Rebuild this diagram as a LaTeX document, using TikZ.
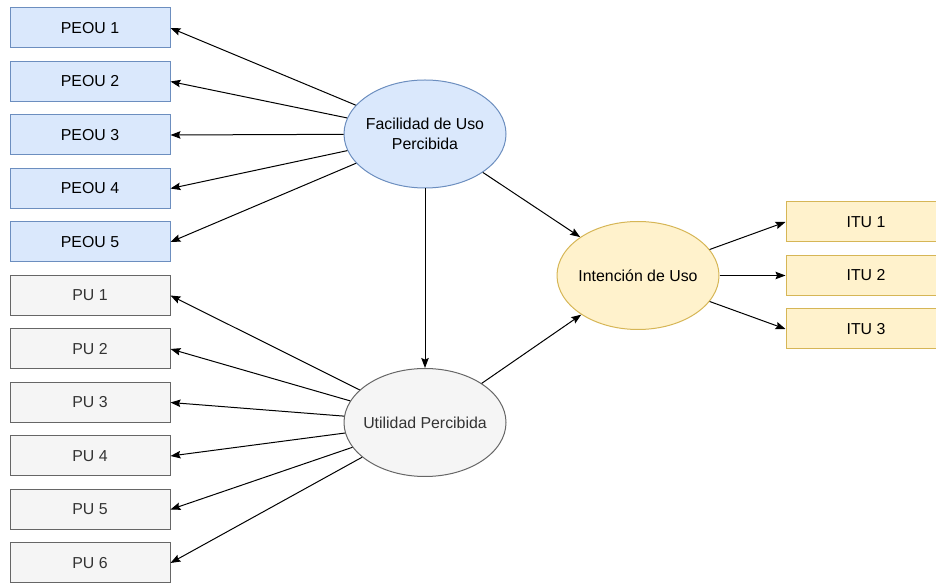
\documentclass[tikz,border=0pt]{standalone}
\usepackage{fontspec}
\setmainfont{Liberation Sans}
\usetikzlibrary{shapes.geometric,arrows.meta}

\definecolor{blueFill}{HTML}{DAE8FC}
\definecolor{blueLine}{HTML}{6C8EBF}
\definecolor{greyFill}{HTML}{F5F5F5}
\definecolor{greyLine}{HTML}{666666}
\definecolor{greyText}{HTML}{333333}
\definecolor{yellowFill}{HTML}{FFF2CC}
\definecolor{yellowLine}{HTML}{D6B656}

\tikzset{
  every node/.style={font=\fontsize{11.9pt}{15pt}\selectfont, line width=0.75pt},
  item/.style={rectangle, minimum width=120pt, minimum height=30pt, inner sep=0pt},
  construct/.style={ellipse, minimum width=121.5pt, minimum height=81pt, inner sep=0pt},
  caption/.style={align=center, inner sep=0pt},
  blueitem/.style={item, fill=blueFill, draw=blueLine},
  greyitem/.style={item, fill=greyFill, draw=greyLine, text=greyText},
  yellowitem/.style={item, fill=yellowFill, draw=yellowLine},
  link/.style={line width=0.75pt, -{Stealth[length=7.5pt,width=5.6pt,inset=1.2pt]}}
}

\begin{document}
\begin{tikzpicture}[x=0.75pt, y=-0.75pt]
  \useasboundingbox (0,0) rectangle (936,584);

  % latent constructs (text placed as centred labels so the ellipse keeps its size)
  \node[construct, fill=blueFill, draw=blueLine,
        label={[caption]center:Facilidad de Uso\\Percibida}] (fup) at (425,134) {};
  \node[construct, fill=greyFill, draw=greyLine,
        label={[caption, text=greyText]center:Utilidad Percibida}] (up) at (425,422.5) {};
  \node[construct, fill=yellowFill, draw=yellowLine,
        label={[caption]center:Intención de Uso}] (iu) at (638,275.5) {};

  % indicators of perceived ease of use
  \node[blueitem] (peou1) at (90,28)    {PEOU 1};
  \node[blueitem] (peou2) at (90,81.5)  {PEOU 2};
  \node[blueitem] (peou3) at (90,135)   {PEOU 3};
  \node[blueitem] (peou4) at (90,188.5) {PEOU 4};
  \node[blueitem] (peou5) at (90,242)   {PEOU 5};

  % indicators of perceived usefulness
  \node[greyitem] (pu1) at (90,295.5) {PU 1};
  \node[greyitem] (pu2) at (90,349)   {PU 2};
  \node[greyitem] (pu3) at (90,402.5) {PU 3};
  \node[greyitem] (pu4) at (90,456)   {PU 4};
  \node[greyitem] (pu5) at (90,509.5) {PU 5};
  \node[greyitem] (pu6) at (90,563)   {PU 6};

  % indicators of intention to use
  \node[yellowitem] (itu1) at (866,222)   {ITU 1};
  \node[yellowitem] (itu2) at (866,275.5) {ITU 2};
  \node[yellowitem] (itu3) at (866,329)   {ITU 3};

  % reflective links
  \foreach \i in {1,...,5} \draw[link] (fup) -- (peou\i.east);
  \foreach \i in {1,...,6} \draw[link] (up) -- (pu\i.east);
  \foreach \i in {1,2,3} \draw[link] (iu) -- (itu\i.west);

  % structural paths
  \draw[link] (fup) -- (up);
  \draw[link] (fup) -- (iu);
  \draw[link] (up) -- (iu);
\end{tikzpicture}
\end{document}
